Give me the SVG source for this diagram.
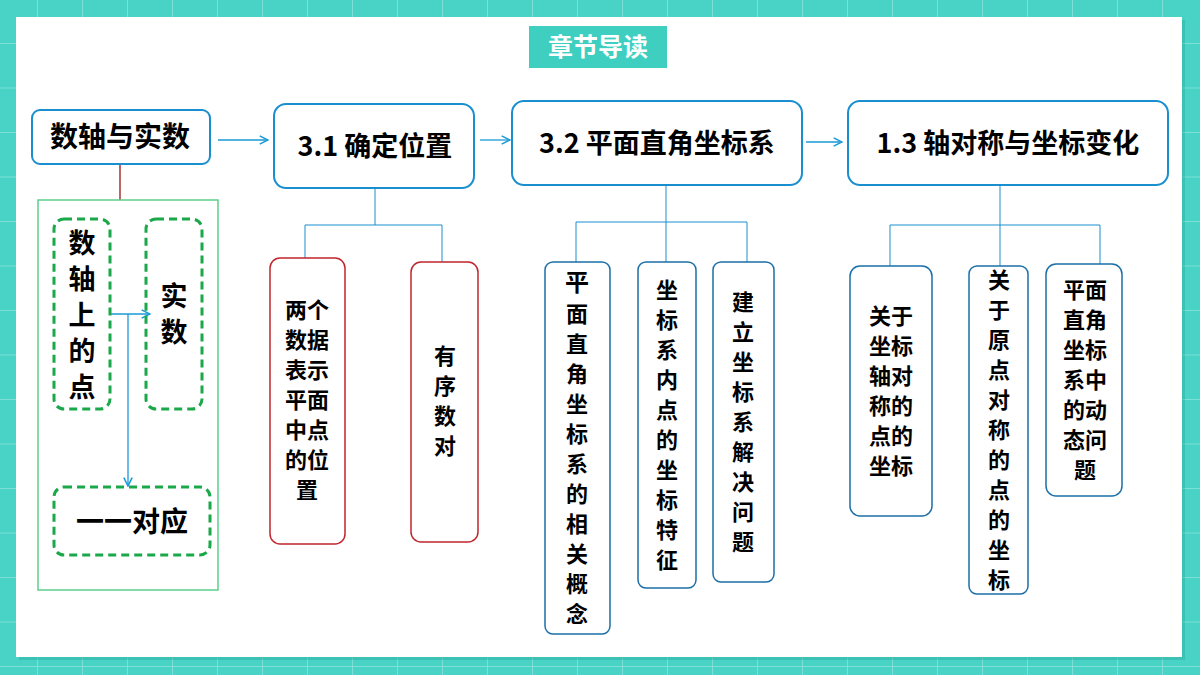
<svg xmlns="http://www.w3.org/2000/svg" width="1200" height="675" viewBox="0 0 1200 675">
<defs>
<pattern id="grid" x="37" y="43" width="45" height="44.5" patternUnits="userSpaceOnUse">
<rect width="45" height="44.5" fill="#48d3c6"/>
<path d="M0 0V44.5M0 0H45" stroke="#8fe3da" stroke-width="1.5" fill="none"/>
</pattern>
<marker id="ar" viewBox="0 0 10 10" refX="9" refY="5" markerWidth="8" markerHeight="8" orient="auto"><path d="M1 1L9 5L1 9" fill="none" stroke="#1a9ad6" stroke-width="1.5"/></marker>
</defs>
<style>
.n{fill:#fff;stroke:#1a8fd0;stroke-width:2}
.r{fill:#fff;stroke:#c0262d;stroke-width:1.5}
.b{fill:#fff;stroke:#1a6fa8;stroke-width:1.5}
.d{fill:none;stroke:#1aa84a;stroke-width:3;stroke-dasharray:8 5}
.t{font-family:"Noto Sans CJK SC","Liberation Sans",sans-serif;font-weight:bold;fill:#000;text-anchor:middle}
.c{stroke:#1a9ad6;stroke-width:1.3;fill:none}
.g{stroke:#1a8fd0;stroke-width:1;fill:none}
</style>
<rect width="1200" height="675" fill="url(#grid)"/>
<rect x="19" y="20" width="1166" height="640" fill="#2aa89c" opacity="0.4"/>
<rect x="16" y="17" width="1166" height="640" fill="#fff"/>
<g id="title"><rect x="529" y="26" width="138" height="42" fill="#3ecfc0"/><text class="t" x="598" y="56" font-size="25" style="fill:#fff">章节导读</text></g>
<g id="connectors">
<line class="c" x1="218" y1="140" x2="268" y2="140" marker-end="url(#ar)"/>
<line class="c" x1="480" y1="140" x2="510" y2="140" marker-end="url(#ar)"/>
<line class="c" x1="806" y1="142" x2="842" y2="142" marker-end="url(#ar)"/>
<line x1="120" y1="164" x2="120" y2="200" stroke="#8b0000" stroke-width="1.2"/>
<polyline class="c" points="110,314 150,314" marker-end="url(#ar)"/>
<polyline class="c" points="128,314 128,486" marker-end="url(#ar)"/>
<path class="g" d="M375 188V225M305 258V225H442V262"/>
<path class="g" d="M666 185V222M576 262V222H747V262M666 222V262"/>
<path class="g" d="M1000 185V225M890 266V225H1100V264M1000 225V266"/>
</g>
<g id="n0"><rect class="n" x="32" y="110" width="178" height="54" rx="8"/><text class="t" x="120" y="147" font-size="28">数轴与实数</text></g>
<g id="n1"><rect class="n" x="274" y="104" width="200" height="84" rx="12"/><text class="t" x="375" y="156" font-size="27">3.1 确定位置</text></g>
<g id="n2"><rect class="n" x="512" y="101" width="290" height="84" rx="12"/><text class="t" x="657" y="153" font-size="27">3.2 平面直角坐标系</text></g>
<g id="n3"><rect class="n" x="848" y="101" width="320" height="84" rx="12"/><text class="t" x="1008" y="153" font-size="27">1.3 轴对称与坐标变化</text></g>
<g id="box"><rect x="38" y="200" width="180" height="390" fill="none" stroke="#5ccf8a" stroke-width="1.5"/></g>
<g id="a1"><rect class="d" x="54" y="219" width="56" height="190" rx="10"/><text class="t" x="82" y="253" font-size="27"><tspan x="82">数</tspan><tspan x="82" dy="36">轴</tspan><tspan x="82" dy="36">上</tspan><tspan x="82" dy="36">的</tspan><tspan x="82" dy="36">点</tspan></text></g>
<g id="a2"><rect class="d" x="146" y="219" width="56" height="190" rx="10"/><text class="t" x="174" y="306" font-size="27"><tspan x="174">实</tspan><tspan x="174" dy="36">数</tspan></text></g>
<g id="a3"><rect class="d" x="54" y="487" width="156" height="68" rx="10"/><text class="t" x="132" y="532" font-size="28">一一对应</text></g>
<g id="c1"><rect class="r" x="270" y="258" width="75" height="286" rx="10"/><text class="t" font-size="22" y="318"><tspan x="307">两个</tspan><tspan x="307" dy="30">数据</tspan><tspan x="307" dy="30">表示</tspan><tspan x="307" dy="30">平面</tspan><tspan x="307" dy="30">中点</tspan><tspan x="307" dy="30">的位</tspan><tspan x="307" dy="30">置</tspan></text></g>
<g id="c2"><rect class="r" x="411" y="262" width="67" height="280" rx="10"/><text class="t" font-size="22" y="364"><tspan x="445">有</tspan><tspan x="445" dy="30">序</tspan><tspan x="445" dy="30">数</tspan><tspan x="445" dy="30">对</tspan></text></g>
<g id="c3"><rect class="b" x="545" y="262" width="65" height="372" rx="8"/><text class="t" font-size="22" y="291"><tspan x="577" font-size="24">平</tspan><tspan x="577" dy="31">面</tspan><tspan x="577" dy="30">直</tspan><tspan x="577" dy="30">角</tspan><tspan x="577" dy="30">坐</tspan><tspan x="577" dy="30">标</tspan><tspan x="577" dy="30">系</tspan><tspan x="577" dy="30">的</tspan><tspan x="577" dy="30">相</tspan><tspan x="577" dy="30">关</tspan><tspan x="577" dy="30">概</tspan><tspan x="577" dy="30">念</tspan></text></g>
<g id="c4"><rect class="b" x="638" y="262" width="58" height="326" rx="8"/><text class="t" font-size="22" y="298"><tspan x="667">坐</tspan><tspan x="667" dy="30">标</tspan><tspan x="667" dy="30">系</tspan><tspan x="667" dy="30">内</tspan><tspan x="667" dy="30">点</tspan><tspan x="667" dy="30">的</tspan><tspan x="667" dy="30">坐</tspan><tspan x="667" dy="30">标</tspan><tspan x="667" dy="30">特</tspan><tspan x="667" dy="30">征</tspan></text></g>
<g id="c5"><rect class="b" x="713" y="262" width="61" height="320" rx="8"/><text class="t" font-size="22" y="310"><tspan x="743">建</tspan><tspan x="743" dy="30">立</tspan><tspan x="743" dy="30">坐</tspan><tspan x="743" dy="30">标</tspan><tspan x="743" dy="30">系</tspan><tspan x="743" dy="30">解</tspan><tspan x="743" dy="30">决</tspan><tspan x="743" dy="30">问</tspan><tspan x="743" dy="30">题</tspan></text></g>
<g id="c6"><rect class="b" x="850" y="266" width="82" height="250" rx="10"/><text class="t" font-size="22" y="324"><tspan x="891">关于</tspan><tspan x="891" dy="30">坐标</tspan><tspan x="891" dy="30">轴对</tspan><tspan x="891" dy="30">称的</tspan><tspan x="891" dy="30">点的</tspan><tspan x="891" dy="30">坐标</tspan></text></g>
<g id="c7"><rect class="b" x="969" y="266" width="59" height="328" rx="8"/><text class="t" font-size="22" y="288"><tspan x="999">关</tspan><tspan x="999" dy="30">于</tspan><tspan x="999" dy="30">原</tspan><tspan x="999" dy="30">点</tspan><tspan x="999" dy="30">对</tspan><tspan x="999" dy="30">称</tspan><tspan x="999" dy="30">的</tspan><tspan x="999" dy="30">点</tspan><tspan x="999" dy="30">的</tspan><tspan x="999" dy="30">坐</tspan><tspan x="999" dy="30">标</tspan></text></g>
<g id="c8"><rect class="b" x="1046" y="264" width="76" height="232" rx="10"/><text class="t" font-size="22" y="298"><tspan x="1085">平面</tspan><tspan x="1085" dy="30">直角</tspan><tspan x="1085" dy="30">坐标</tspan><tspan x="1085" dy="30">系中</tspan><tspan x="1085" dy="30">的动</tspan><tspan x="1085" dy="30">态问</tspan><tspan x="1085" dy="30">题</tspan></text></g>
</svg>
